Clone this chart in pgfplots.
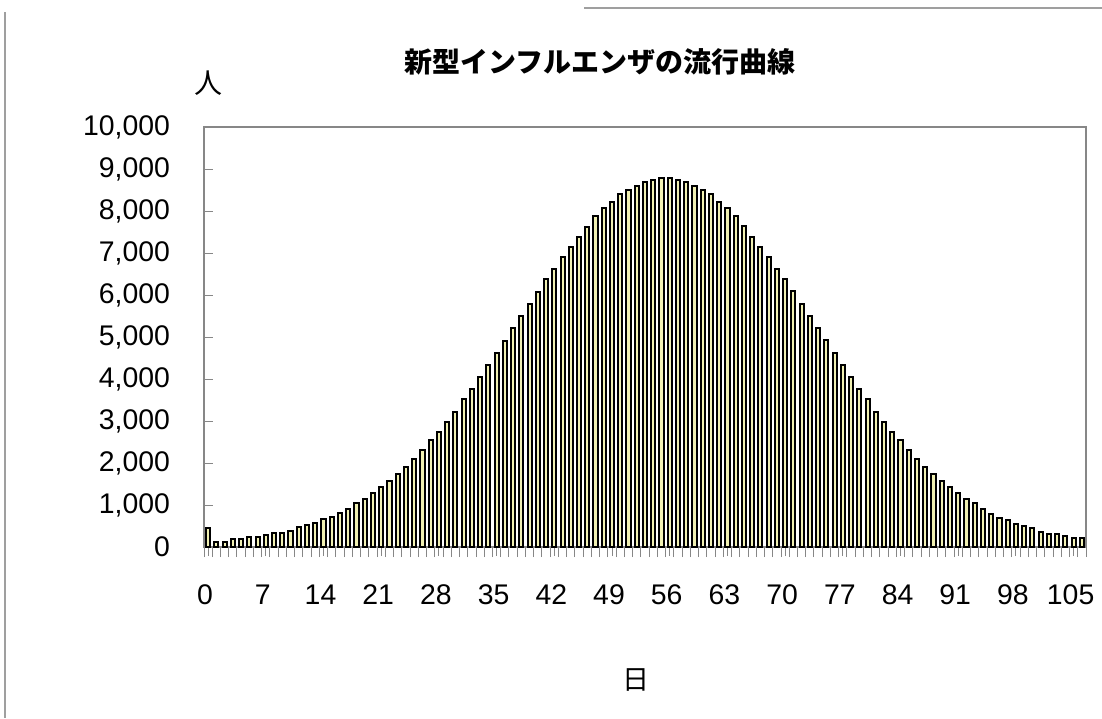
\documentclass[border=0pt]{standalone}
\usepackage{pgfplots}
\pgfplotsset{compat=1.18}
\usepackage{fontspec}
\setmainfont{Liberation Sans}
\newfontfamily\cjk{Noto Sans CJK JP}
\definecolor{barfill}{RGB}{240,240,178}
\definecolor{frame}{RGB}{135,135,135}
\begin{document}
\begin{tikzpicture}
\useasboundingbox (0,0) rectangle (551pt,-359pt);
\draw[frame!80, line width=0.7pt] (292pt,-4pt) -- (551pt,-4pt);
\draw[frame!80, line width=0.7pt] (2.5pt,-6pt) -- (2.5pt,-359pt);
\begin{axis}[
  at={(102pt,-273.5pt)}, anchor=south west,
  scale only axis, width=441pt, height=210pt,
  xmin=-0.5, xmax=106.5, ymin=0, ymax=10000,
  axis line style={draw=frame, line width=0.75pt},
  tick align=inside, xtick pos=bottom, ytick pos=left,
  major tick length=4.5pt, minor tick length=5pt,
  tick style={draw=frame, line width=0.5pt},
  xtick={0,7,...,105},
  minor xtick={-0.5,0.5,...,106.5},
  ytick={0,1000,...,10000},
  scaled y ticks=false,
  /pgf/number format/.cd, 1000 sep={,}, assume math mode=true,
  /pgfplots/.cd,
  xticklabel style={font=\fontsize{14.2}{16}\selectfont, yshift=-11pt, xshift=-1.5pt},
  yticklabel style={font=\fontsize{14.2}{16}\selectfont, xshift=-13.5pt},
  ybar, bar width=0.5,
]
\addplot[draw=black, line width=1pt, fill=barfill] coordinates {
(0,460) (1,127) (2,127) (3,183) (4,183) (5,238) (6,238) (7,278) (8,341) (9,341)
(10,381) (11,476) (12,532) (13,571) (14,675) (15,714) (16,802) (17,905) (18,1040) (19,1143)
(20,1293) (21,1421) (22,1571) (23,1730) (24,1913) (25,2103) (26,2310) (27,2540) (28,2730) (29,2968)
(30,3214) (31,3516) (32,3754) (33,4040) (34,4333) (35,4627) (36,4913) (37,5206) (38,5500) (39,5786)
(40,6079) (41,6373) (42,6619) (43,6905) (44,7143) (45,7389) (46,7627) (47,7873) (48,8071) (49,8214)
(50,8413) (51,8508) (52,8603) (53,8698) (54,8746) (55,8794) (56,8794) (57,8746) (58,8698) (59,8603)
(60,8508) (61,8413) (62,8214) (63,8071) (64,7873) (65,7635) (66,7389) (67,7143) (68,6905) (69,6619)
(70,6373) (71,6087) (72,5786) (73,5500) (74,5206) (75,4921) (76,4627) (77,4333) (78,4048) (79,3754)
(80,3516) (81,3214) (82,2968) (83,2730) (84,2540) (85,2302) (86,2103) (87,1913) (88,1730) (89,1571)
(90,1421) (91,1294) (92,1143) (93,1040) (94,897) (95,794) (96,698) (97,643) (98,540) (99,500)
(100,452) (101,357) (102,310) (103,310) (104,262) (105,206) (106,214)
};
\end{axis}
\node[font=\cjk\bfseries\fontsize{14}{16}\selectfont] at (300pt,-31pt) {新型インフルエンザの流行曲線};
\node[font=\cjk\fontsize{14}{16}\selectfont] at (104pt,-41.5pt) {人};
\node[font=\cjk\fontsize{13.5}{16}\selectfont] at (318pt,-340pt) {日};
\end{tikzpicture}
\end{document}
